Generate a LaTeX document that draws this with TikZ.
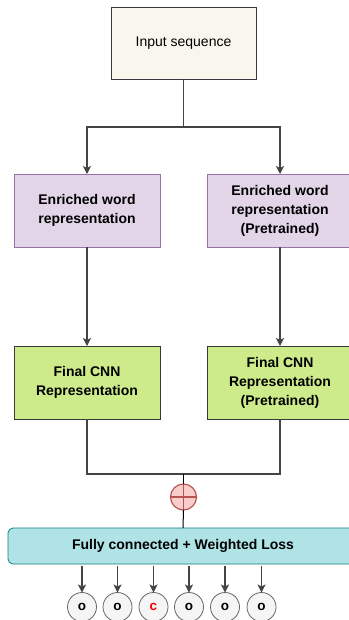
\documentclass[tikz,border=0pt]{standalone}
\usepackage{fontspec}
\setmainfont{Liberation Sans}
\usetikzlibrary{arrows.meta}
\definecolor{inFill}{HTML}{F9F7ED}
\definecolor{inLine}{HTML}{36393D}
\definecolor{puFill}{HTML}{E1D5E7}
\definecolor{puLine}{HTML}{9673A6}
\definecolor{grFill}{HTML}{CDEB8B}
\definecolor{fcFill}{HTML}{B0E3E6}
\definecolor{fcLine}{HTML}{0E8088}
\definecolor{rdFill}{HTML}{F8CECC}
\definecolor{rdLine}{HTML}{B85450}
\definecolor{ouFill}{HTML}{F5F5F5}
\definecolor{ouLine}{HTML}{666666}
\definecolor{edge}{HTML}{444444}
\begin{document}
\begin{tikzpicture}[x=1pt,y=-1pt,
  every node/.style={inner sep=0pt, outer sep=0pt},
  box/.style={draw, line width=0.8pt, minimum width=146pt, minimum height=73pt, align=center,
    font=\fontsize{14}{19}\selectfont\bfseries},
  inbox/.style={box, fill=inFill, draw=inLine, minimum width=145pt, minimum height=72pt, font=\fontsize{14}{19}\selectfont},
  pubox/.style={box, fill=puFill, draw=puLine},
  grbox/.style={box, fill=grFill, draw=inLine},
  fcbox/.style={draw=fcLine, fill=fcFill, line width=0.8pt, rounded corners=5pt, minimum width=350pt, minimum height=36pt,
    font=\fontsize{14}{17}\selectfont\bfseries},
  outc/.style={circle, draw=ouLine, fill=ouFill, line width=0.8pt, minimum size=29pt, font=\fontsize{13.5}{15}\selectfont\bfseries},
  ln/.style={draw=edge, line width=1.1pt},
  arr/.style={ln, -{Stealth[length=8pt,width=8pt,inset=2pt]}},
]
\useasboundingbox (0,0) rectangle (348,620);
\fill[white] (0,0) rectangle (348,620);

\node[inbox] (in) at (183.5,43) {Input sequence};
\node[pubox] (e1) at (87,210.5) {Enriched word\\representation};
\node[pubox] (e2) at (280,210.5) {Enriched word\\representation\\(Pretrained)};
\node[grbox] (c1) at (87,382.5) {Final CNN\\Representation};
\node[grbox] (c2) at (280,382.5) {Final CNN\\Representation\\(Pretrained)};

\coordinate (j1) at (183.5,127);
\coordinate (j2) at (183.5,474);

\node[circle, draw=rdLine, fill=rdFill, line width=1.2pt, minimum size=26pt] (plus) at (183.5,497) {};
\node[fcbox] (fc) at (183,546) {Fully connected + Weighted Loss};

\draw[ln] (in.south) -- (j1);
\draw[arr] (j1) -| (e1.north);
\draw[arr] (j1) -| (e2.north);
\draw[arr] (e1.south) -- (c1.north);
\draw[arr] (e2.south) -- (c2.north);
\draw[ln] (c1.south) |- (j2);
\draw[ln] (c2.south) |- (j2);
\draw[black, line width=1pt] (j2) -- (plus.north);
\draw[black, line width=1pt] (plus.south) -- (fc.north);
\draw[rdLine, line width=1.2pt] (plus.north) -- (plus.south) (plus.west) -- (plus.east);

\foreach \i/\x/\t/\c in {1/82/o/black, 2/117.5/o/black, 3/153.5/c/red, 4/189/o/black, 5/225/o/black, 6/261.5/o/black}{
  \node[outc, text=\c] (o\i) at (\x,607) {\t};
  \draw[arr] (fc.south -| o\i) ++(0,2) -- (o\i.north);
}
\end{tikzpicture}
\end{document}
